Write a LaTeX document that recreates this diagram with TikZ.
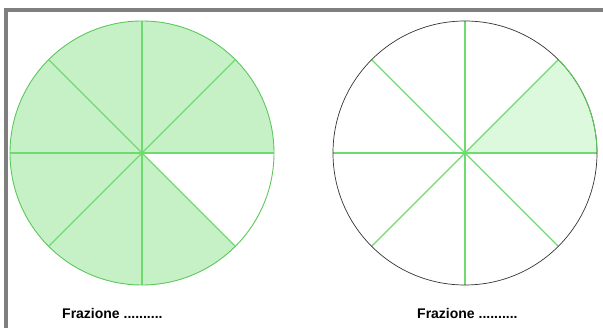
\documentclass[tikz,border=0pt]{standalone}
\usepackage{fontspec}
\setmainfont{Liberation Sans}
\usepackage{tikz}
\usetikzlibrary{positioning}
\definecolor{framegray}{HTML}{7F7F7F}
\definecolor{slicefill}{HTML}{C6F1C6}
\definecolor{slicelight}{HTML}{DDF9DD}
\definecolor{spoke}{HTML}{6FDB6F}
\definecolor{rimgreen}{HTML}{5CC85C}
\tikzset{
  spokeline/.style={draw=spoke,line width=1.1pt},
  label/.style={anchor=base west,inner sep=0pt,font=\fontsize{14}{16}\selectfont\bfseries},
}
\begin{document}
\begin{tikzpicture}[x=1pt,y=1pt]
  \useasboundingbox (0,0) rectangle (603,328);
  \draw[framegray,line width=4pt] (6,0) |- (603,318);
  \coordinate (lc) at (142,175);
  \coordinate (rc) at (465,175);
  % left circle: seven eighths
  \fill[slicefill] (lc) -- ++(0:132) arc[start angle=0,end angle=315,radius=132] -- cycle;
  \foreach \a in {0,45,...,315}
    \draw[spokeline] (lc) -- ++(\a:132);
  \draw[rimgreen,line width=0.9pt] (lc) circle[radius=132];
  % right circle: one eighth
  \fill[slicelight] (rc) -- ++(0:132) arc[start angle=0,end angle=45,radius=132] -- cycle;
  \foreach \a in {0,45,...,315}
    \draw[spokeline] (rc) -- ++(\a:132);
  \draw[black!80,line width=0.7pt] (rc) circle[radius=132];
  \draw[rimgreen,line width=0.9pt] (rc) ++(0:132) arc[start angle=0,end angle=45,radius=132];
  \node[label] (fl) at (62,9.7) {Frazione ..........};
  \node[label] (fr) at (417,9.7) {Frazione ..........};
\end{tikzpicture}
\end{document}
